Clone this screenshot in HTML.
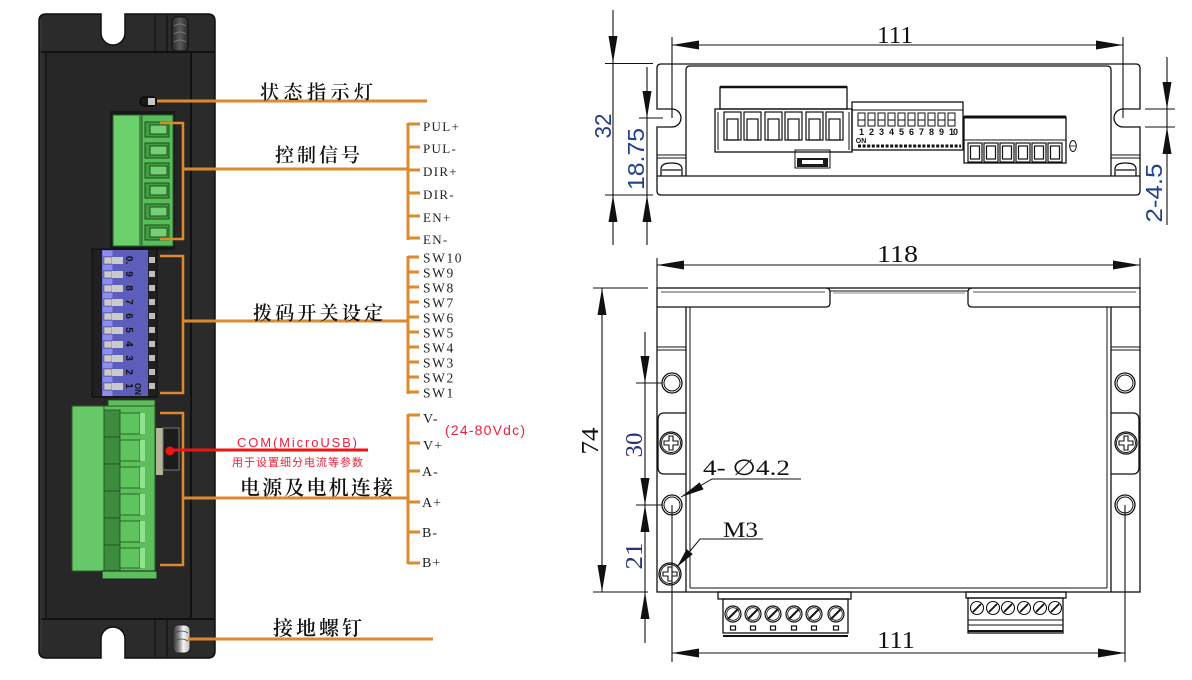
<!DOCTYPE html>
<html><head><meta charset="utf-8"><style>
html,body{margin:0;padding:0;background:#fff;}
svg{display:block;}
.cn{font-family:"Liberation Serif","Noto Serif CJK SC",serif;font-weight:600;fill:#111;}
.lb{font-family:"Liberation Serif",serif;fill:#222;}
.dim{font-family:"Liberation Serif",serif;fill:#111;}
.dimb{font-family:"Liberation Sans",sans-serif;fill:#22408c;}
.dimn{font-family:"Liberation Serif",serif;fill:#24337a;}
.red{font-family:"Liberation Sans","Noto Sans CJK SC",sans-serif;fill:#f0203c;}
</style></head><body>
<svg width="1192" height="680" viewBox="0 0 1192 680" xmlns="http://www.w3.org/2000/svg">
<defs>
<linearGradient id="gs" x1="0" x2="1" y1="0" y2="0"><stop offset="0" stop-color="#2a2a2a"/><stop offset="0.5" stop-color="#5a5a5a"/><stop offset="1" stop-color="#2a2a2a"/></linearGradient>
<linearGradient id="gg" x1="0" x2="1" y1="0" y2="0"><stop offset="0" stop-color="#333"/><stop offset="0.35" stop-color="#888"/><stop offset="0.6" stop-color="#f4f4f4"/><stop offset="1" stop-color="#bbb"/></linearGradient>
</defs>
<rect width="1192" height="680" fill="#fff"/>

<!-- ================= LEFT DEVICE ================= -->
<path d="M46,14 L101,14 L101,33 A12,12 0 0 0 125,33 L125,14 L208,14 Q215,14 215,21 L215,651 Q215,658 208,658 L125,658 L125,639 A12,12 0 0 0 101,639 L101,658 L46,658 Q39,658 39,651 L39,21 Q39,14 46,14 Z" fill="#2b2b2b" stroke="#0e0e0e" stroke-width="1.5"/>
<rect x="46" y="52" width="145" height="567" fill="#272727"/>
<line x1="39" y1="52" x2="215" y2="52" stroke="#111" stroke-width="2"/>
<line x1="39" y1="619" x2="215" y2="619" stroke="#111" stroke-width="2"/>
<line x1="46" y1="52" x2="46" y2="619" stroke="#151515" stroke-width="1.5"/>
<line x1="41" y1="20" x2="41" y2="652" stroke="#3a3a3a" stroke-width="1"/>
<line x1="191" y1="52" x2="191" y2="619" stroke="#111" stroke-width="2"/>
<line x1="155" y1="14" x2="155" y2="52" stroke="#111" stroke-width="1.2"/>
<line x1="167" y1="14" x2="167" y2="52" stroke="#111" stroke-width="1.2"/>
<line x1="155" y1="619" x2="155" y2="658" stroke="#111" stroke-width="1.2"/>
<line x1="167" y1="619" x2="167" y2="658" stroke="#111" stroke-width="1.2"/>
<!-- screws -->
<rect x="172" y="17" width="16" height="34" rx="4" fill="url(#gs)" stroke="#111"/>
<path d="M174,26 Q180,22 186,26 M174,34 Q180,30 186,34 M174,42 Q180,38 186,42" stroke="#777" fill="none" stroke-width="1"/>
<rect x="173" y="625" width="17" height="28" rx="5" fill="url(#gg)" stroke="#222"/>
<path d="M175,633 Q181,629 188,633 M175,641 Q181,637 188,641" stroke="#444" fill="none" stroke-width="0.8"/>
<!-- LED -->
<rect x="140" y="97" width="17" height="9" rx="4.5" fill="#1a1a1a" stroke="#050505" stroke-width="1.2"/>
<rect x="148" y="98" width="7" height="7" fill="#c8c8c8"/>

<!-- control terminal -->
<rect x="110" y="111" width="65" height="139" fill="#181818"/>
<rect x="113" y="115" width="27" height="131" fill="#6bd06b" stroke="#2d5e2d" stroke-width="1"/>
<rect x="139" y="115" width="3" height="131" fill="#3f8f3f"/>
<rect x="142" y="115" width="31" height="131" fill="#58bc58" stroke="#2d5e2d" stroke-width="1"/>
<g stroke="#1f4f1f" stroke-width="1">
<rect x="145" y="122" width="24" height="15" fill="#3f9d3f"/><rect x="150" y="125" width="17" height="9" fill="#74d074"/>
<rect x="145" y="143" width="24" height="15" fill="#3f9d3f"/><rect x="150" y="146" width="17" height="9" fill="#74d074"/>
<rect x="145" y="163" width="24" height="15" fill="#3f9d3f"/><rect x="150" y="166" width="17" height="9" fill="#74d074"/>
<rect x="145" y="183" width="24" height="15" fill="#3f9d3f"/><rect x="150" y="186" width="17" height="9" fill="#74d074"/>
<rect x="145" y="204" width="24" height="15" fill="#3f9d3f"/><rect x="150" y="207" width="17" height="9" fill="#74d074"/>
<rect x="145" y="225" width="24" height="15" fill="#3f9d3f"/><rect x="150" y="228" width="17" height="9" fill="#74d074"/>
</g>

<!-- DIP switch -->
<rect x="92" y="249" width="65" height="148" fill="#202020" stroke="#0c0c0c"/>
<rect x="102" y="250" width="46" height="146" fill="#5d5dbb"/>
<rect x="102" y="250" width="11" height="146" fill="#7070d6"/>
<g>
<rect x="103" y="251" width="9" height="5" fill="#8d8df4"/><rect x="104" y="257" width="8" height="7" fill="#cacaca" stroke="#555" stroke-width="0.5"/><rect x="112" y="257" width="11" height="7" fill="#cacaca"/><rect x="149" y="257" width="6" height="6" fill="#bdbdbd"/>
<rect x="103" y="265" width="9" height="5" fill="#8d8df4"/><rect x="104" y="271" width="8" height="7" fill="#cacaca" stroke="#555" stroke-width="0.5"/><rect x="112" y="271" width="11" height="7" fill="#cacaca"/><rect x="149" y="271" width="6" height="6" fill="#bdbdbd"/>
<rect x="103" y="279" width="9" height="5" fill="#8d8df4"/><rect x="104" y="285" width="8" height="7" fill="#cacaca" stroke="#555" stroke-width="0.5"/><rect x="112" y="285" width="11" height="7" fill="#cacaca"/><rect x="149" y="285" width="6" height="6" fill="#bdbdbd"/>
<rect x="103" y="293" width="9" height="5" fill="#8d8df4"/><rect x="104" y="299" width="8" height="7" fill="#cacaca" stroke="#555" stroke-width="0.5"/><rect x="112" y="299" width="11" height="7" fill="#cacaca"/><rect x="149" y="299" width="6" height="6" fill="#bdbdbd"/>
<rect x="103" y="307" width="9" height="5" fill="#8d8df4"/><rect x="104" y="313" width="8" height="7" fill="#cacaca" stroke="#555" stroke-width="0.5"/><rect x="112" y="313" width="11" height="7" fill="#cacaca"/><rect x="149" y="313" width="6" height="6" fill="#bdbdbd"/>
<rect x="103" y="321" width="9" height="5" fill="#8d8df4"/><rect x="104" y="327" width="8" height="7" fill="#cacaca" stroke="#555" stroke-width="0.5"/><rect x="112" y="327" width="11" height="7" fill="#cacaca"/><rect x="149" y="327" width="6" height="6" fill="#bdbdbd"/>
<rect x="103" y="335" width="9" height="5" fill="#8d8df4"/><rect x="104" y="341" width="8" height="7" fill="#cacaca" stroke="#555" stroke-width="0.5"/><rect x="112" y="341" width="11" height="7" fill="#cacaca"/><rect x="149" y="341" width="6" height="6" fill="#bdbdbd"/>
<rect x="103" y="349" width="9" height="5" fill="#8d8df4"/><rect x="104" y="355" width="8" height="7" fill="#cacaca" stroke="#555" stroke-width="0.5"/><rect x="112" y="355" width="11" height="7" fill="#cacaca"/><rect x="149" y="355" width="6" height="6" fill="#bdbdbd"/>
<rect x="103" y="363" width="9" height="5" fill="#8d8df4"/><rect x="104" y="369" width="8" height="7" fill="#cacaca" stroke="#555" stroke-width="0.5"/><rect x="112" y="369" width="11" height="7" fill="#cacaca"/><rect x="149" y="369" width="6" height="6" fill="#bdbdbd"/>
<rect x="103" y="377" width="9" height="5" fill="#8d8df4"/><rect x="104" y="383" width="8" height="7" fill="#cacaca" stroke="#555" stroke-width="0.5"/><rect x="112" y="383" width="11" height="7" fill="#cacaca"/><rect x="149" y="383" width="6" height="6" fill="#bdbdbd"/>
<rect x="103" y="391" width="9" height="5" fill="#8d8df4"/>
</g>
<g font-family="Liberation Sans,sans-serif" font-weight="bold" font-size="10" fill="#111" text-anchor="middle">
<text x="126" y="260" transform="rotate(90 126 260)">0.</text>
<text x="126" y="274" transform="rotate(90 126 274)">9</text>
<text x="126" y="288" transform="rotate(90 126 288)">8</text>
<text x="126" y="302" transform="rotate(90 126 302)">7</text>
<text x="126" y="316" transform="rotate(90 126 316)">6</text>
<text x="126" y="330" transform="rotate(90 126 330)">5</text>
<text x="126" y="344" transform="rotate(90 126 344)">4</text>
<text x="126" y="358" transform="rotate(90 126 358)">3</text>
<text x="126" y="372" transform="rotate(90 126 372)">2</text>
<text x="126" y="386" transform="rotate(90 126 386)">1</text>
<text x="135" y="389" font-size="8" transform="rotate(90 135 389)">ON</text>
</g>

<!-- power terminal -->
<rect x="108" y="400" width="47" height="6" fill="#5cbf5c" stroke="#234a23" stroke-width="0.8"/>
<rect x="72" y="406" width="32" height="165" fill="#66c866" stroke="#2c5a2c" stroke-width="1"/>
<rect x="104" y="406" width="51" height="166" fill="#5cbf5c" stroke="#2c5a2c" stroke-width="1"/>
<g stroke="#1f4f1f" stroke-width="0.8">
<rect x="104" y="410" width="16" height="27" fill="#3d8c3d"/><rect x="120" y="413" width="20" height="21" fill="#5fc35f"/><rect x="140" y="413" width="5" height="21" fill="#8fe38f" stroke="none"/>
<rect x="104" y="437" width="16" height="27" fill="#3d8c3d"/><rect x="120" y="440" width="20" height="21" fill="#5fc35f"/><rect x="140" y="440" width="5" height="21" fill="#8fe38f" stroke="none"/>
<rect x="104" y="464" width="16" height="27" fill="#3d8c3d"/><rect x="120" y="467" width="20" height="21" fill="#5fc35f"/><rect x="140" y="467" width="5" height="21" fill="#8fe38f" stroke="none"/>
<rect x="104" y="491" width="16" height="27" fill="#3d8c3d"/><rect x="120" y="494" width="20" height="21" fill="#5fc35f"/><rect x="140" y="494" width="5" height="21" fill="#8fe38f" stroke="none"/>
<rect x="104" y="518" width="16" height="27" fill="#3d8c3d"/><rect x="120" y="521" width="20" height="21" fill="#5fc35f"/><rect x="140" y="521" width="5" height="21" fill="#8fe38f" stroke="none"/>
<rect x="104" y="545" width="16" height="26" fill="#3d8c3d"/><rect x="120" y="548" width="20" height="20" fill="#5fc35f"/><rect x="140" y="548" width="5" height="20" fill="#8fe38f" stroke="none"/>
</g>
<rect x="102" y="571" width="55" height="8" fill="#5cbf5c" stroke="#1c1c1c" stroke-width="1"/>
<rect x="156" y="428" width="7" height="47" fill="#b5b59a"/>
<rect x="163" y="428" width="16" height="42" fill="#1c1c1c" stroke="#777" stroke-width="1"/>

<!-- orange connectors -->
<g stroke="#dc8a2e" fill="none">
<line x1="157" y1="101" x2="427" y2="101" stroke-width="3"/>
<path d="M160,123 H183 V239 H160" stroke-width="2.5"/>
<line x1="183" y1="169" x2="408" y2="169" stroke-width="3"/>
<line x1="408" y1="123" x2="408" y2="240" stroke-width="3"/>
<path d="M408,124 H420 M408,147 H420 M408,170 H420 M408,193 H420 M408,216 H420 M408,238 H420" stroke-width="3"/>
<path d="M160,256 H183 V393 H160" stroke-width="2.5"/>
<line x1="183" y1="321" x2="408" y2="321" stroke-width="3"/>
<line x1="408" y1="256" x2="408" y2="394" stroke-width="3"/>
<path d="M408,257 H419 M408,272 H419 M408,287 H419 M408,302 H419 M408,317 H419 M408,332 H419 M408,347 H419 M408,362 H419 M408,377 H419 M408,392 H419" stroke-width="3"/>
<path d="M160,413 H183 V565 H160" stroke-width="2.5"/>
<line x1="183" y1="498" x2="408" y2="498" stroke-width="3"/>
<line x1="408" y1="414" x2="408" y2="564" stroke-width="3"/>
<path d="M408,415 H420 M408,443 H420 M408,471 H420 M408,502 H420 M408,532 H420 M408,563 H420" stroke-width="3"/>
<line x1="188" y1="639" x2="433" y2="639" stroke-width="3"/>
</g>
<line x1="170" y1="450" x2="368" y2="450" stroke="#ee1515" stroke-width="3"/>
<circle cx="170" cy="451" r="4.5" fill="#ee1515"/>

<!-- Chinese labels -->
<text class="cn" x="260" y="98.5" font-size="19" textLength="113" lengthAdjust="spacing">状态指示灯</text>
<text class="cn" x="275" y="161.5" font-size="19" textLength="85" lengthAdjust="spacing">控制信号</text>
<text class="cn" x="253" y="319.5" font-size="19" textLength="130" lengthAdjust="spacing">拨码开关设定</text>
<text class="cn" x="240" y="494.5" font-size="20" textLength="153" lengthAdjust="spacing">电源及电机连接</text>
<text class="cn" x="273" y="635" font-size="20" textLength="89" lengthAdjust="spacing">接地螺钉</text>

<text class="red" x="237" y="447" font-size="13" textLength="120" lengthAdjust="spacing">COM(MicroUSB)</text>
<text class="red" x="232" y="466" font-size="11" textLength="131" lengthAdjust="spacing">用于设置细分电流等参数</text>
<text class="red" x="445" y="435" font-size="14" textLength="80" lengthAdjust="spacing">(24-80Vdc)</text>

<g class="lb" font-size="13" letter-spacing="1.3">
<text x="423" y="131">PUL+</text>
<text x="423" y="153">PUL-</text>
<text x="423" y="176">DIR+</text>
<text x="423" y="199">DIR-</text>
<text x="423" y="222">EN+</text>
<text x="423" y="244">EN-</text>
</g>
<g class="lb" font-size="13.5" letter-spacing="1.6">
<text x="423" y="262.5">SW10</text>
<text x="423" y="277.5">SW9</text>
<text x="423" y="292.5">SW8</text>
<text x="423" y="307.5">SW7</text>
<text x="423" y="322.5">SW6</text>
<text x="423" y="337.5">SW5</text>
<text x="423" y="352.5">SW4</text>
<text x="423" y="367.5">SW3</text>
<text x="423" y="382.5">SW2</text>
<text x="423" y="397.5">SW1</text>
</g>
<g class="lb" font-size="14" letter-spacing="1">
<text x="423" y="423">V-</text>
<text x="423" y="450">V+</text>
<text x="422" y="476">A-</text>
<text x="422" y="507">A+</text>
<text x="422" y="537">B-</text>
<text x="422" y="567">B+</text>
</g>

<!-- ================= TOP VIEW ================= -->
<g stroke="#111" fill="none" stroke-width="1.3">
<path d="M661,64 H1136 Q1140,64 1140,68 V109 H1123 A9,9 0 0 0 1123,127 H1140 V191 Q1140,195 1136,195 H661 Q657,195 657,191 V127 H672 A9,9 0 0 0 672,109 H657 V68 Q657,64 661,64 Z"/>
<path d="M686,176 V70 Q686,66 690,66 H1107 Q1111,66 1111,70 V176"/>
<line x1="657" y1="176" x2="1140" y2="176"/>
<line x1="657" y1="155" x2="686" y2="155" stroke-width="1"/>
<line x1="657" y1="158" x2="686" y2="158" stroke-width="1"/>
<line x1="1111" y1="155" x2="1140" y2="155" stroke-width="1"/>
<line x1="1111" y1="158" x2="1140" y2="158" stroke-width="1"/>
<path d="M661,176 V169 Q661,163 671.5,163 Q682,163 682,169 V176 M662,170 H681"/>
<path d="M1115,176 V169 Q1115,163 1125.5,163 Q1136,163 1136,169 V176 M1116,170 H1135"/>
<!-- connector 1 -->
<rect x="720" y="87" width="127" height="22" stroke-width="1.3"/>
<line x1="720" y1="87" x2="847" y2="87" stroke-width="2.5"/>
<rect x="715" y="109" width="137" height="43"/>
<line x1="718" y1="112" x2="718" y2="150" stroke-width="1"/>
<line x1="849" y1="112" x2="849" y2="150" stroke-width="1"/>
<g stroke-width="1.2">
<rect x="724" y="112" width="17" height="28"/><rect x="727" y="119" width="11" height="21"/>
<rect x="744" y="112" width="17" height="28"/><rect x="747" y="119" width="11" height="21"/>
<rect x="765" y="112" width="17" height="28"/><rect x="768" y="119" width="11" height="21"/>
<rect x="785" y="112" width="17" height="28"/><rect x="788" y="119" width="11" height="21"/>
<rect x="806" y="112" width="17" height="28"/><rect x="809" y="119" width="11" height="21"/>
<rect x="826" y="112" width="17" height="28"/><rect x="829" y="119" width="11" height="21"/>
</g>
<!-- USB -->
<rect x="795" y="150" width="35" height="18" stroke-width="1"/>
<!-- DIP -->
<rect x="852" y="102" width="111" height="48"/>
<line x1="852" y1="110" x2="963" y2="110" stroke-width="1"/>
<g stroke-width="1">
<rect x="858" y="113" width="7" height="13"/><rect x="868" y="113" width="7" height="13"/><rect x="878" y="113" width="7" height="13"/><rect x="888" y="113" width="7" height="13"/><rect x="898" y="113" width="7" height="13"/><rect x="908" y="113" width="7" height="13"/><rect x="918" y="113" width="7" height="13"/><rect x="928" y="113" width="7" height="13"/><rect x="938" y="113" width="7" height="13"/><rect x="948" y="113" width="7" height="13"/>
<line x1="858" y1="120" x2="955" y2="120" stroke-dasharray="7 3"/>
</g>
<line x1="858" y1="146" x2="961" y2="146" stroke-width="3" stroke-dasharray="3 1.6"/>
<!-- connector 2 -->
<rect x="964" y="117" width="102" height="46"/>
<line x1="964" y1="117" x2="1066" y2="117" stroke-width="3"/>
<line x1="964" y1="140" x2="1066" y2="140" stroke-width="1"/>
<g stroke-width="1.2">
<rect x="968" y="143" width="14" height="19"/><rect x="970.5" y="146" width="9" height="13"/>
<rect x="984" y="143" width="14" height="19"/><rect x="986.5" y="146" width="9" height="13"/>
<rect x="1000" y="143" width="14" height="19"/><rect x="1002.5" y="146" width="9" height="13"/>
<rect x="1016" y="143" width="14" height="19"/><rect x="1018.5" y="146" width="9" height="13"/>
<rect x="1032" y="143" width="14" height="19"/><rect x="1034.5" y="146" width="9" height="13"/>
<rect x="1048" y="143" width="14" height="19"/><rect x="1050.5" y="146" width="9" height="13"/>
</g>
<ellipse cx="1073" cy="146" rx="3.3" ry="5.5" stroke-width="1"/>
<line x1="1070" y1="146" x2="1076" y2="146" stroke-width="0.8"/>
</g>
<rect x="797" y="158" width="31" height="9" fill="#1a1a1a"/>
<rect x="802" y="160" width="21" height="4" fill="#fff"/>
<g font-family="Liberation Sans,sans-serif" font-weight="bold" font-size="9" fill="#111" text-anchor="middle">
<text x="861.5" y="135">1</text><text x="871.5" y="135">2</text><text x="881.5" y="135">3</text><text x="891.5" y="135">4</text><text x="901.5" y="135">5</text><text x="911.5" y="135">6</text><text x="921.5" y="135">7</text><text x="931.5" y="135">8</text><text x="941.5" y="135">9</text><text x="953" y="135" letter-spacing="-1">10</text>
<text x="861" y="143" font-size="7">ON</text>
</g>

<!-- top view dimensions -->
<g stroke="#111" stroke-width="1.1" fill="none">
<line x1="672" y1="37" x2="672" y2="118"/>
<line x1="1123" y1="37" x2="1123" y2="118"/>
<line x1="672" y1="45" x2="1123" y2="45"/>
<line x1="613" y1="10" x2="613" y2="245"/>
<line x1="605" y1="63.5" x2="653" y2="63.5"/>
<line x1="605" y1="195" x2="653" y2="195"/>
<line x1="647" y1="67" x2="647" y2="245"/>
<line x1="639" y1="118" x2="663" y2="118"/>
<line x1="1167" y1="57" x2="1167" y2="225"/>
<line x1="1145" y1="109" x2="1175" y2="109"/>
<line x1="1145" y1="127" x2="1175" y2="127"/>
</g>
<g fill="#111">
<polygon points="672,45 699,40.5 699,49.5"/>
<polygon points="1123,45 1096,40.5 1096,49.5"/>
<polygon points="613,63 608.5,36 617.5,36"/>
<polygon points="613,195 608.5,222 617.5,222"/>
<polygon points="647,118 642.5,91 651.5,91"/>
<polygon points="647,195 642.5,222 651.5,222"/>
<polygon points="1167,109 1162.5,82 1171.5,82"/>
<polygon points="1167,127 1162.5,154 1171.5,154"/>
</g>
<text class="dim" x="877" y="43" font-size="24" textLength="36" lengthAdjust="spacingAndGlyphs">111</text>
<text class="dimb" x="603" y="134" font-size="23" text-anchor="middle" transform="rotate(-90 603 126)" textLength="25" lengthAdjust="spacingAndGlyphs">32</text>
<text class="dimb" x="636" y="167" font-size="23" text-anchor="middle" transform="rotate(-90 636 159)" textLength="62" lengthAdjust="spacingAndGlyphs">18.75</text>
<text class="dimb" x="1154" y="201" font-size="23" text-anchor="middle" transform="rotate(-90 1154 193)" textLength="59" lengthAdjust="spacingAndGlyphs">2-4.5</text>

<!-- ================= BOTTOM VIEW ================= -->
<g stroke="#111" fill="none" stroke-width="1.3">
<rect x="657" y="288" width="483" height="304"/>
<path d="M657,307 H826 Q830,307 830,303 V292 Q830,288 826,288"/>
<path d="M1140,307 H972 Q968,307 968,303 V292 Q968,288 972,288"/>
<line x1="661" y1="292" x2="825" y2="292" stroke-width="0.8"/>
<line x1="973" y1="292" x2="1136" y2="292" stroke-width="0.8"/>
<line x1="830" y1="291" x2="968" y2="291" stroke-width="1"/>
<line x1="833" y1="293" x2="965" y2="293" stroke-width="0.6"/>
<line x1="686" y1="307" x2="686" y2="592"/>
<line x1="690" y1="307" x2="690" y2="588" stroke-width="1"/>
<line x1="1111" y1="307" x2="1111" y2="592"/>
<line x1="1107" y1="307" x2="1107" y2="588" stroke-width="1"/>
<line x1="690" y1="588" x2="1107" y2="588" stroke-width="1"/>
<line x1="657" y1="347" x2="686" y2="347" stroke-width="1"/>
<line x1="657" y1="350" x2="686" y2="350" stroke-width="1"/>
<line x1="1111" y1="347" x2="1140" y2="347" stroke-width="1"/>
<line x1="1111" y1="350" x2="1140" y2="350" stroke-width="1"/>
<path d="M686,413 H664 Q658,413 658,420 V467 Q658,474 664,474 H686"/>
<path d="M1111,413 H1133 Q1139,413 1139,420 V467 Q1139,474 1133,474 H1111"/>
<circle cx="672" cy="383" r="10"/><circle cx="672" cy="383" r="8" stroke-width="1"/>
<circle cx="672" cy="505" r="10"/><circle cx="672" cy="505" r="8" stroke-width="1"/>
<circle cx="1125" cy="383" r="10"/><circle cx="1125" cy="383" r="8" stroke-width="1"/>
<circle cx="1125" cy="505" r="10"/><circle cx="1125" cy="505" r="8" stroke-width="1"/>
<circle cx="671" cy="443" r="11"/><circle cx="671" cy="443" r="9.5" stroke-width="0.9"/>
<path d="M669,436 h4 v5 h5 v4 h-5 v5 h-4 v-5 h-5 v-4 h5 z" stroke-width="1.1"/>
<circle cx="1126" cy="443" r="11"/><circle cx="1126" cy="443" r="9.5" stroke-width="0.9"/>
<path d="M1124,436 h4 v5 h5 v4 h-5 v5 h-4 v-5 h-5 v-4 h5 z" stroke-width="1.1"/>
<circle cx="670" cy="574" r="11"/><circle cx="670" cy="574" r="9.5" stroke-width="0.9"/>
<path d="M668,567 h4 v5 h5 v4 h-5 v5 h-4 v-5 h-5 v-4 h5 z" stroke-width="1.1"/>
<!-- bottom connectors -->
<rect x="718" y="592" width="133" height="7"/>
<rect x="723" y="599" width="125" height="34"/>
<line x1="723" y1="636" x2="848" y2="636" stroke-width="2"/>
<g stroke-width="1.2">
<circle cx="733" cy="614" r="8"/><circle cx="753" cy="614" r="8"/><circle cx="773" cy="614" r="8"/><circle cx="794" cy="614" r="8"/><circle cx="814" cy="614" r="8"/><circle cx="836" cy="614" r="8"/>
<circle cx="733" cy="614" r="6.3" stroke-width="0.8"/><circle cx="753" cy="614" r="6.3" stroke-width="0.8"/><circle cx="773" cy="614" r="6.3" stroke-width="0.8"/><circle cx="794" cy="614" r="6.3" stroke-width="0.8"/><circle cx="814" cy="614" r="6.3" stroke-width="0.8"/><circle cx="836" cy="614" r="6.3" stroke-width="0.8"/>
<path d="M728,619 L738,609 M748,619 L758,609 M768,619 L778,609 M789,619 L799,609 M809,619 L819,609 M831,619 L841,609" stroke-width="2"/>
<rect x="730.5" y="626" width="5" height="4"/><rect x="750.5" y="626" width="5" height="4"/><rect x="770.5" y="626" width="5" height="4"/><rect x="791.5" y="626" width="5" height="4"/><rect x="811.5" y="626" width="5" height="4"/><rect x="833.5" y="626" width="5" height="4"/>
</g>
<rect x="966" y="592" width="100" height="6"/>
<rect x="968" y="598" width="95" height="35"/>
<line x1="968" y1="620" x2="1063" y2="620" stroke-width="1"/>
<line x1="968" y1="625" x2="1063" y2="625" stroke-width="1"/>
<line x1="968" y1="631" x2="1063" y2="631" stroke-width="2"/>
<g stroke-width="1.1">
<circle cx="977" cy="608" r="6.5"/><circle cx="993" cy="608" r="6.5"/><circle cx="1008" cy="608" r="6.5"/><circle cx="1024" cy="608" r="6.5"/><circle cx="1040" cy="608" r="6.5"/><circle cx="1055" cy="608" r="6.5"/>
<path d="M973,612 L981,604 M989,612 L997,604 M1004,612 L1012,604 M1020,612 L1028,604 M1036,612 L1044,604 M1051,612 L1059,604" stroke-width="1.8"/>
</g>
</g>
<g stroke="#111" fill="none" stroke-width="1.1">
<line x1="657" y1="258" x2="657" y2="288"/>
<line x1="1140" y1="258" x2="1140" y2="288"/>
<line x1="657" y1="265" x2="1140" y2="265"/>
<line x1="602" y1="288" x2="602" y2="592"/>
<line x1="593" y1="288" x2="648" y2="288"/>
<line x1="593" y1="592" x2="648" y2="592"/>
<line x1="645" y1="332" x2="645" y2="643"/>
<line x1="636" y1="383" x2="662" y2="383"/>
<line x1="636" y1="505" x2="662" y2="505"/>
<line x1="672" y1="505" x2="672" y2="662"/>
<line x1="1125" y1="505" x2="1125" y2="662"/>
<line x1="672" y1="653" x2="1125" y2="653"/>
<path d="M681,497 L712,479 H801" stroke-width="1"/>
<path d="M677,567 L700,539 H763" stroke-width="1"/>
</g>
<g fill="#111">
<polygon points="657,265 684,260.5 684,269.5"/>
<polygon points="1140,265 1113,260.5 1113,269.5"/>
<polygon points="602,288 597.5,315 606.5,315"/>
<polygon points="602,592 597.5,565 606.5,565"/>
<polygon points="645,383 640.5,356 649.5,356"/>
<polygon points="645,505 640.5,478 649.5,478"/>
<polygon points="645,505 640.5,532 649.5,532"/>
<polygon points="645,592 640.5,619 649.5,619"/>
<polygon points="672,653 699,648.5 699,657.5"/>
<polygon points="1125,653 1098,648.5 1098,657.5"/>
<polygon points="681,497 703.6,489.4 699.6,482.4"/>
<polygon points="677,567 692.8,554.1 686.6,549.1"/>
</g>
<text class="dim" x="877" y="262" font-size="24" textLength="41" lengthAdjust="spacingAndGlyphs">118</text>
<text class="dim" x="877" y="648" font-size="24" textLength="38" lengthAdjust="spacingAndGlyphs">111</text>
<text class="dim" x="590" y="449" font-size="24" text-anchor="middle" transform="rotate(-90 590 441)" textLength="27" lengthAdjust="spacingAndGlyphs">74</text>
<text class="dimn" x="634" y="453" font-size="24" text-anchor="middle" transform="rotate(-90 634 445)" textLength="25" lengthAdjust="spacingAndGlyphs">30</text>
<text class="dimn" x="634" y="564" font-size="24" text-anchor="middle" transform="rotate(-90 634 556)" textLength="27" lengthAdjust="spacingAndGlyphs">21</text>
<text class="dim" x="703" y="475" font-size="22" textLength="87" lengthAdjust="spacingAndGlyphs">4- ∅4.2</text>
<text class="dim" x="723" y="537" font-size="22" textLength="35" lengthAdjust="spacingAndGlyphs">M3</text>
</svg>
</body></html>
